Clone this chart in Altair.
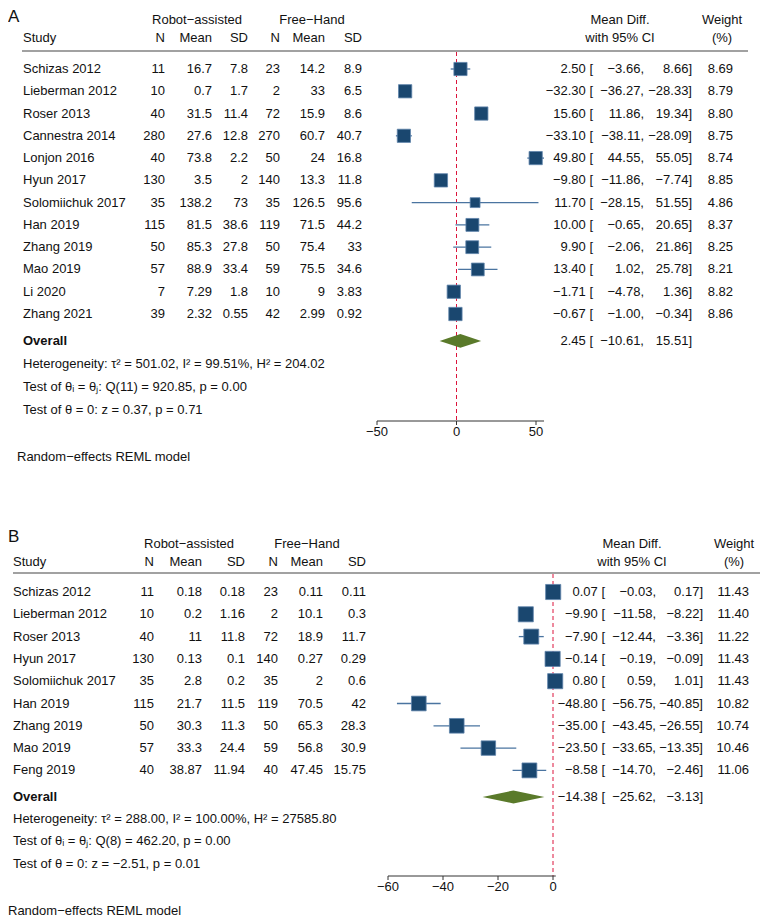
import altair as alt
import pandas as pd

# ---------------- Panel A data ----------------
a_study = ["Schizas 2012", "Lieberman 2012", "Roser 2013", "Cannestra 2014", "Lonjon 2016",
           "Hyun 2017", "Solomiichuk 2017", "Han 2019", "Zhang 2019", "Mao 2019", "Li 2020", "Zhang 2021"]
a_n1 = [11, 10, 40, 280, 40, 130, 35, 115, 50, 57, 7, 39]
a_m1 = [16.7, 0.7, 31.5, 27.6, 73.8, 3.5, 138.2, 81.5, 85.3, 88.9, 7.29, 2.32]
a_sd1 = [7.8, 1.7, 11.4, 12.8, 2.2, 2, 73, 38.6, 27.8, 33.4, 1.8, 0.55]
a_n2 = [23, 2, 72, 270, 50, 140, 35, 119, 50, 59, 10, 42]
a_m2 = [14.2, 33, 15.9, 60.7, 24, 13.3, 126.5, 71.5, 75.4, 75.5, 9, 2.99]
a_sd2 = [8.9, 6.5, 8.6, 40.7, 16.8, 11.8, 95.6, 44.2, 33, 34.6, 3.83, 0.92]
a_est = [2.50, -32.30, 15.60, -33.10, 49.80, -9.80, 11.70, 10.00, 9.90, 13.40, -1.71, -0.67]
a_lo = [-3.66, -36.27, 11.86, -38.11, 44.55, -11.86, -28.15, -0.65, -2.06, 1.02, -4.78, -1.00]
a_hi = [8.66, -28.33, 19.34, -28.09, 55.05, -7.74, 51.55, 20.65, 21.86, 25.78, 1.36, -0.34]
a_w = [8.69, 8.79, 8.80, 8.75, 8.74, 8.85, 4.86, 8.37, 8.25, 8.21, 8.82, 8.86]
a_overall = [2.45, -10.61, 15.51]
a_stats = ["Heterogeneity: τ² = 501.02, I² = 99.51%, H² = 204.02",
           "Test of θᵢ = θⱼ: Q(11) = 920.85, p = 0.00",
           "Test of θ = 0: z = 0.37, p = 0.71"]
a_ticks = [-50, 0, 50]

# ---------------- Panel B data ----------------
b_study = ["Schizas 2012", "Lieberman 2012", "Roser 2013", "Hyun 2017", "Solomiichuk 2017",
           "Han 2019", "Zhang 2019", "Mao 2019", "Feng 2019"]
b_n1 = [11, 10, 40, 130, 35, 115, 50, 57, 40]
b_m1 = [0.18, 0.2, 11, 0.13, 2.8, 21.7, 30.3, 33.3, 38.87]
b_sd1 = [0.18, 1.16, 11.8, 0.1, 0.2, 11.5, 11.3, 24.4, 11.94]
b_n2 = [23, 2, 72, 140, 35, 119, 50, 59, 40]
b_m2 = [0.11, 10.1, 18.9, 0.27, 2, 70.5, 65.3, 56.8, 47.45]
b_sd2 = [0.11, 0.3, 11.7, 0.29, 0.6, 42, 28.3, 30.9, 15.75]
b_est = [0.07, -9.90, -7.90, -0.14, 0.80, -48.80, -35.00, -23.50, -8.58]
b_lo = [-0.03, -11.58, -12.44, -0.19, 0.59, -56.75, -43.45, -33.65, -14.70]
b_hi = [0.17, -8.22, -3.36, -0.09, 1.01, -40.85, -26.55, -13.35, -2.46]
b_w = [11.43, 11.40, 11.22, 11.43, 11.43, 10.82, 10.74, 10.46, 11.06]
b_overall = [-14.38, -25.62, -3.13]
b_stats = ["Heterogeneity: τ² = 288.00, I² = 100.00%, H² = 27585.80",
           "Test of θᵢ = θⱼ: Q(8) = 462.20, p = 0.00",
           "Test of θ = 0: z = −2.51, p = 0.01"]
b_ticks = [-60, -40, -20, 0]

FOOT = "Random−effects REML model"
FONT = "Liberation Sans"
TXT = "#111111"
NAVY = "#1a476f"
CI_COL = "#4a74a0"
DIAMOND = "#5a7a2a"
RED = "#dc143c"


def fmt(v, nd=2):
    return f"{v:.{nd}f}".replace("-", "−")


def g(v):
    return f"{v:g}"


def make_panel(letter, study, n1, m1, sd1, n2, m2, sd2, est, lo, hi, w, overall, stats,
               ticks, axis_lo, axis_hi, L, height):
    k = len(study)
    df = pd.DataFrame({
        "study": study, "row": list(range(k)),
        "n1": [g(v) for v in n1], "m1": [g(v) for v in m1], "sd1": [g(v) for v in sd1],
        "n2": [g(v) for v in n2], "m2": [g(v) for v in m2], "sd2": [g(v) for v in sd2],
        "est": est, "lo": lo, "hi": hi, "w": w,
        "est_t": [fmt(v) + " [" for v in est],
        "lo_t": [fmt(v) + "," for v in lo],
        "hi_t": [fmt(v) + "]" for v in hi],
        "w_t": [fmt(v) for v in w],
    })
    orow = k - 1 + L["overall_gap"]
    odf = pd.DataFrame({"row": [orow], "label": ["Overall"],
                        "est_t": [fmt(overall[0]) + " ["], "lo_t": [fmt(overall[1]) + ","],
                        "hi_t": [fmt(overall[2]) + "]"]})
    h = L["dh"]
    ddf = pd.DataFrame({"x": [overall[1], overall[0], overall[2]],
                        "y": [orow, orow - h, orow],
                        "y2": [orow, orow + h, orow]})

    xs = alt.Scale(domain=L["xdom"], range=L["xrange"], nice=False, zero=False)
    ys = alt.Scale(domain=[0, k - 1], range=L["yrange"], nice=False, zero=False)
    X = lambda f: alt.X(f, scale=xs, axis=None)
    Y = lambda f: alt.Y(f, scale=ys, axis=None)

    layers = []

    def txt(data, field, x, align, y, bold=False, size=13):
        return alt.Chart(data).mark_text(
            align=align, baseline="middle", font=FONT, fontSize=size,
            fontWeight="bold" if bold else "normal", color=TXT
        ).encode(x=alt.value(x), y=y, text=alt.Text(field + ":N"))

    one = pd.DataFrame({"t": [0]})

    # header texts
    def htxt(s, x, y, align, size=13):
        return txt(pd.DataFrame({"s": [s]}), "s", x, align, alt.value(y), size=size)

    C = L["cols"]
    layers.append(htxt(letter, 0, L["letter_y"], "left", size=17))
    layers.append(htxt("Robot−assisted", L["grp1"], L["h1"], "center"))
    layers.append(htxt("Free−Hand", L["grp2"], L["h1"], "center"))
    layers.append(htxt("Study", C["study"], L["h2"], "left"))
    for key, lab in [("n1", "N"), ("m1", "Mean"), ("sd1", "SD"), ("n2", "N"), ("m2", "Mean"), ("sd2", "SD")]:
        layers.append(htxt(lab, C[key], L["h2"], "right"))
    layers.append(htxt("Mean Diff.", L["md"], L["h1"], "center"))
    layers.append(htxt("with 95% CI", L["md"], L["h2"], "center"))
    layers.append(htxt("Weight", L["wt"], L["h1"], "center"))
    layers.append(htxt("(%)", L["wt"], L["h2"], "center"))

    # header rule
    layers.append(alt.Chart(one).mark_rule(color="#444444", strokeWidth=1.2).encode(
        x=alt.value(L["line_x"][0]), x2=alt.value(L["line_x"][1]), y=alt.value(L["line_y"])))

    # null line
    layers.append(alt.Chart(one).mark_rule(color=RED, strokeWidth=1, strokeDash=[4, 3]).encode(
        x=alt.X(datum=0, type="quantitative", scale=xs, axis=None),
        y=alt.value(L["line_y"] + 1), y2=alt.value(L["axis_y"])))

    # CI lines
    layers.append(alt.Chart(df).mark_rule(color=CI_COL, strokeWidth=1.3).encode(
        x=X("lo:Q"), x2="hi:Q", y=Y("row:Q")))
    # squares
    layers.append(alt.Chart(df).mark_point(shape="square", filled=True, fill=NAVY, opacity=1,
                                           stroke="#5f84ab", strokeWidth=0.8).encode(
        x=X("est:Q"), y=Y("row:Q"),
        size=alt.Size("w:Q", scale=alt.Scale(domain=[0, 10], range=[0, L["sq"]]), legend=None)))
    # diamond
    layers.append(alt.Chart(ddf).mark_area(color=DIAMOND, opacity=1).encode(
        x=X("x:Q"), y=Y("y:Q"), y2="y2:Q"))

    # table columns
    for key in ["n1", "m1", "sd1", "n2", "m2", "sd2"]:
        layers.append(txt(df, key, C[key], "right", Y("row:Q")))
    layers.append(txt(df, "study", C["study"], "left", Y("row:Q")))
    layers.append(txt(df, "est_t", C["est"], "right", Y("row:Q")))
    layers.append(txt(df, "lo_t", C["lo"], "right", Y("row:Q")))
    layers.append(txt(df, "hi_t", C["hi"], "right", Y("row:Q")))
    layers.append(txt(df, "w_t", C["w"], "right", Y("row:Q")))

    # overall row
    layers.append(txt(odf, "label", C["study"], "left", Y("row:Q"), bold=True))
    layers.append(txt(odf, "est_t", C["est"], "right", Y("row:Q")))
    layers.append(txt(odf, "lo_t", C["lo"], "right", Y("row:Q")))
    layers.append(txt(odf, "hi_t", C["hi"], "right", Y("row:Q")))

    # stats lines
    for s, yy in zip(stats, L["stats_y"]):
        layers.append(htxt(s, C["study"], yy, "left"))

    # axis
    adf = pd.DataFrame({"a": [axis_lo], "b": [axis_hi]})
    layers.append(alt.Chart(adf).mark_rule(color="#333333", strokeWidth=1).encode(
        x=X("a:Q"), x2="b:Q", y=alt.value(L["axis_y"])))
    tdf = pd.DataFrame({"t": ticks, "lab": [fmt(v, 0) for v in ticks]})
    layers.append(alt.Chart(tdf).mark_rule(color="#333333", strokeWidth=1).encode(
        x=X("t:Q"), y=alt.value(L["axis_y"]), y2=alt.value(L["axis_y"] + 4)))
    layers.append(alt.Chart(tdf).mark_text(font=FONT, fontSize=13, color=TXT, baseline="middle",
                                           align="center").encode(
        x=X("t:Q"), y=alt.value(L["axis_y"] + 11), text="lab:N"))

    layers.append(htxt(FOOT, L["foot_x"], L["foot_y"], "left"))

    return alt.layer(*layers).properties(width=754, height=height)


LA = {
    "letter_y": 5, "h1": 8, "h2": 26, "line_y": 39, "line_x": [14, 740],
    "grp1": 189, "grp2": 304, "md": 612, "wt": 714,
    "cols": {"study": 15, "n1": 157, "m1": 204, "sd1": 240, "n2": 272, "m2": 317, "sd2": 354,
             "est": 585, "lo": 636, "hi": 684, "w": 725},
    "yrange": [57, 302], "overall_gap": 1.21, "dh": 0.31,
    "xdom": [-50, 50], "xrange": [369, 528],
    "stats_y": [352, 375, 398], "axis_y": 409, "foot_x": 9, "foot_y": 445, "sq": 200,
}
LB = {
    "letter_y": 13, "h1": 20, "h2": 38, "line_y": 49, "line_x": [5, 752],
    "grp1": 181, "grp2": 299, "md": 624, "wt": 726,
    "cols": {"study": 5, "n1": 146, "m1": 194, "sd1": 237, "n2": 270, "m2": 315, "sd2": 358,
             "est": 597, "lo": 648, "hi": 695, "w": 741},
    "yrange": [68, 246.4], "overall_gap": 1.19, "dh": 0.29,
    "xdom": [-60, 0], "xrange": [380, 545],
    "stats_y": [295, 317, 340], "axis_y": 352, "foot_x": 0, "foot_y": 387, "sq": 164,
}

panel_a = make_panel("A", a_study, a_n1, a_m1, a_sd1, a_n2, a_m2, a_sd2, a_est, a_lo, a_hi, a_w,
                     a_overall, a_stats, a_ticks, -50, 55.05, LA, 512)
panel_b = make_panel("B", b_study, b_n1, b_m1, b_sd1, b_n2, b_m2, b_sd2, b_est, b_lo, b_hi, b_w,
                     b_overall, b_stats, b_ticks, -60, 1.01, LB, 396)

chart = alt.vconcat(panel_a, panel_b, spacing=0).properties(padding=0).configure_view(stroke=None)

chart.save("out.html", embed_options={"renderer": "svg", "actions": False})
